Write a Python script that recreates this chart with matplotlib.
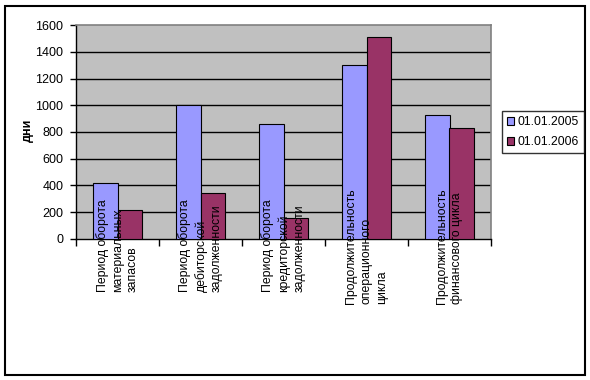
import matplotlib
matplotlib.use("Agg")
import matplotlib.pyplot as plt
import matplotlib.patches as patches
from matplotlib.transforms import blended_transform_factory
import numpy as np

plt.rcParams['font.family'] = ['Liberation Sans', 'DejaVu Sans']

categories = [
    "Период оборота\nматериальных\nзапасов",
    "Период оборота\nдебиторской\nзадолженности",
    "Период оборота\nкредиторской\nзадолженности",
    "Продолжительность\nоперационного\nцикла",
    "Продолжительность\nфинансового цикла",
]
series_names = ["01.01.2005", "01.01.2006"]
values_2005 = [416, 999, 857, 1298, 924]
values_2006 = [214, 344, 155, 1507, 827]
yticks = [0, 200, 400, 600, 800, 1000, 1200, 1400, 1600]

W, H = 590, 380
fig = plt.figure(figsize=(W / 100, H / 100), dpi=100)
fig.patch.set_facecolor("white")

# outer chart border
fig.patches.append(patches.Rectangle((5 / W, 5 / H), 580 / W, 369 / H,
                                     transform=fig.transFigure, fill=False,
                                     edgecolor="black", linewidth=1.5))

ax = fig.add_axes([76 / W, 1 - 239 / H, 415 / W, 214 / H])
ax.set_facecolor("#C0C0C0")

x = np.arange(len(categories))
bw = 0.29
b1 = ax.bar(x - bw / 2, values_2005, bw, color="#9999FF", edgecolor="black",
            linewidth=0.8, label=series_names[0], zorder=3)
b2 = ax.bar(x + bw / 2, values_2006, bw, color="#993366", edgecolor="black",
            linewidth=0.8, label=series_names[1], zorder=3)

ax.set_xlim(-0.5, len(categories) - 0.5)
ax.set_ylim(0, 1600)
ax.set_yticks(yticks)
ax.set_yticklabels([str(v) for v in yticks], fontsize=9)
for v in yticks[1:-1]:
    ax.axhline(v, color="black", linewidth=1, zorder=1)

ax.set_xticks(np.arange(len(categories) + 1) - 0.5)
ax.set_xticklabels([])
ax.tick_params(axis="x", direction="out", length=5, width=1, color="black")
ax.tick_params(axis="y", direction="out", length=4, width=1, color="black", pad=5)

for s in ["top", "right"]:
    ax.spines[s].set_color("#808080")
    ax.spines[s].set_linewidth(1.2)
for s in ["left", "bottom"]:
    ax.spines[s].set_color("black")
    ax.spines[s].set_linewidth(1)

trans = blended_transform_factory(ax.transData, ax.transAxes)
for i, lab in enumerate(categories):
    ax.text(i, -7 / 214, lab, rotation=90, ha="center", va="center",
            multialignment="left", fontsize=8.8, linespacing=1.35,
            transform=trans, zorder=5, clip_on=False)

fig.text(28 / W, 1 - 130 / H, "дни", rotation=90, ha="center", va="center",
         fontsize=9, fontweight="bold")

leg = fig.legend(handles=[b1, b2], labels=series_names, loc="center left",
                 bbox_to_anchor=(502 / W, 1 - 132 / H), fontsize=8.8,
                 frameon=True, fancybox=False, edgecolor="black",
                 handlelength=0.6, handleheight=0.6, handletextpad=0.3,
                 borderpad=0.4, labelspacing=0.65, borderaxespad=0)
leg.get_frame().set_linewidth(1)

fig.savefig("out.png", dpi=100, facecolor="white")
